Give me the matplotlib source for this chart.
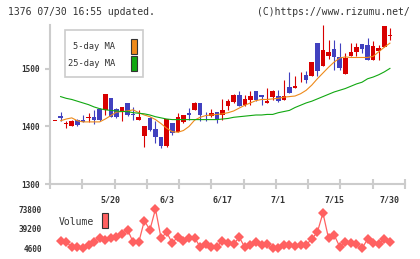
import numpy as np
import matplotlib
matplotlib.use("Agg")
import matplotlib.pyplot as plt
from matplotlib.patches import Rectangle

# daily candles, 5/2 .. 7/30 (one entry per trading day)
opens = [1410, 1419, 1404, 1400, 1412, 1412, 1415, 1417, 1430, 1428,
         1449, 1430, 1426, 1441, 1422, 1411, 1383, 1414, 1395, 1381,
         1366, 1406, 1391, 1408, 1423, 1428, 1441, 1422, 1419, 1426,
         1420, 1436, 1443, 1454, 1438, 1446, 1462, 1454, 1440, 1452,
         1453, 1446, 1468, 1467, 1485.5, 1490, 1488, 1546, 1506, 1522,
         1534, 1521, 1491, 1522, 1529, 1544, 1542, 1516, 1532, 1538,
         1557.5]
highs = [1410, 1426, 1409, 1411, 1413, 1420, 1424, 1429, 1432, 1457,
         1449, 1432, 1434, 1441, 1434, 1428, 1401, 1416, 1409, 1382,
         1413, 1406, 1423, 1420, 1432, 1442, 1441, 1426, 1430, 1426,
         1448, 1448, 1457, 1461, 1455, 1461, 1462, 1454, 1467, 1463,
         1463, 1481, 1494, 1488, 1494, 1496, 1513, 1546, 1577, 1550,
         1550, 1545, 1528, 1545, 1545, 1544, 1554, 1548, 1542, 1575,
         1571]
lows = [1410, 1409, 1397, 1400, 1401, 1407, 1407, 1405, 1409, 1420,
        1416, 1414, 1410, 1418, 1412, 1411, 1365, 1392, 1371, 1362,
        1364, 1385, 1391, 1406, 1412, 1428, 1409, 1409, 1416, 1406,
        1412, 1429, 1440, 1435, 1436, 1438, 1445, 1438, 1440, 1446,
        1443, 1446, 1459, 1467, 1478, 1475, 1488, 1487, 1506, 1517,
        1499, 1499, 1491, 1522, 1522, 1528, 1516, 1516, 1516, 1538,
        1550]
closes = [1410, 1415, 1404.5, 1410, 1403, 1408, 1416, 1411, 1412, 1457,
          1417, 1417, 1434, 1420, 1420, 1416, 1400, 1394, 1381, 1366,
          1413, 1388, 1416, 1420, 1420, 1441, 1420, 1421, 1423, 1412,
          1429, 1445, 1454, 1436, 1448, 1453, 1446, 1451, 1445, 1462,
          1445, 1453, 1459, 1470, 1486, 1481, 1513, 1497, 1533, 1530,
          1521, 1501, 1519, 1529, 1538, 1534, 1516, 1540, 1536, 1575,
          1558]
ma5 = [np.nan, 1410, 1413, 1415, 1410, 1408, 1408, 1408, 1408, 1413,
       1419, 1425, 1426, 1427, 1429, 1424, 1420, 1417, 1412, 1405,
       1397, 1391, 1390, 1393, 1400, 1411, 1416, 1419, 1420, 1421,
       1422, 1424, 1427, 1432, 1437, 1441, 1445, 1447, 1447, 1448,
       1449, 1451, 1452, 1453, 1457, 1463, 1472, 1483, 1493, 1503,
       1512, 1519, 1521, 1520, 1520, 1520, 1520, 1522, 1530, 1538,
       1545]
ma25 = [np.nan, 1452, 1449, 1447, 1444, 1441, 1438, 1434, 1431, 1429,
        1428, 1427, 1426, 1426, 1424, 1423, 1422, 1420, 1417, 1415,
        1413, 1412, 1412, 1412, 1412, 1412, 1412, 1412, 1412, 1412,
        1413, 1414, 1416, 1417, 1418, 1419, 1420, 1420, 1421, 1421,
        1424, 1426, 1428, 1433, 1437, 1441, 1444, 1448, 1452, 1456,
        1460, 1463, 1466, 1470, 1474, 1477, 1483, 1486, 1490, 1495,
        1501]
volume = [np.nan, 17500, 16300, 6400, 7400, 4600, 10500, 16300, 22300, 19300,
          22300, 25200, 29400, 37100, 15200, 15200, 53000, 37100, 73800, 22300,
          33000, 13500, 25200, 18100, 22300, 23400, 6800, 12200, 7400, 7400,
          18100, 13500, 11700, 24100, 6400, 10500, 16300, 10500, 11700, 4600,
          4800, 10500, 10500, 9200, 10500, 10500, 21100, 33000, 66700, 22300,
          28200, 7400, 16300, 14500, 11700, 4600, 20600, 14500, 11700, 20600,
          15200]
date_labels = ["5/20", "6/3", "6/17", "7/1", "7/15", "7/30"]
date_idx = [10, 20, 30, 40, 50, 60]
price_ticks = [1300, 1400, 1500]

UP = "#d80000"
DOWN = "#4141bf"
AXIS = "#cccccc"
TXT = "#333333"
MONO = "DejaVu Sans Mono"

W, H = 420, 259
fig = plt.figure(figsize=(W / 100, H / 100), dpi=100)


def px_axes(x0, y0, x1, y1):
    # axes from pixel box (top-left origin)
    return fig.add_axes([x0 / W, 1 - y1 / H, (x1 - x0) / W, (y1 - y0) / H])


x = np.arange(len(opens))
o = np.array(opens, dtype=float)
c = np.array(closes, dtype=float)
hi = np.array(highs, dtype=float)
lo = np.array(lows, dtype=float)
cols = np.where(c >= o, UP, DOWN)
xlim = (-0.9, 62.7)

ax = px_axes(50, 25, 405, 184)
ax.set_xlim(*xlim)
ax.set_ylim(1300, 1576.5)

ax.vlines(x, lo, hi, colors=cols, linewidth=0.8, zorder=2)
body_lo = np.minimum(o, c)
body_h = np.maximum(np.abs(c - o), 1.3)
ax.bar(x, body_h, bottom=body_lo, width=0.82, color=cols, linewidth=0, zorder=3)

ax.plot(x, ma5, color="#ee8a1a", lw=0.8, zorder=4)
ax.plot(x, ma25, color="#11a811", lw=0.8, zorder=4)

for s in ["top", "right"]:
    ax.spines[s].set_visible(False)
for s in ["left", "bottom"]:
    ax.spines[s].set_color(AXIS)
    ax.spines[s].set_linewidth(1.5)

ax.set_yticks(price_ticks)
ax.set_yticklabels([str(v) for v in price_ticks], fontsize=5.6, fontweight="bold",
                   color=TXT, family=MONO)
ax.tick_params(axis="y", length=3.6, width=1.5, color=AXIS, pad=4)

ax.set_xticks(date_idx)
ax.set_xticklabels(date_labels, fontsize=6, fontweight="bold", color=TXT, family=MONO)
ax.tick_params(axis="x", which="major", length=0, pad=8)
ax.set_xticks(np.linspace(xlim[0], xlim[1], 12), minor=True)
ax.tick_params(axis="x", which="minor", direction="inout", length=7, width=1.5, color=AXIS)

# MA legend box
ax.add_artist(Rectangle((65 / W, 1 - 77 / H), 78 / W, 47 / H, transform=fig.transFigure,
                        facecolor="white", edgecolor=AXIS, lw=1.2, zorder=6))
for label, col, yc in [("5-day MA", "#ee8a1a", 46.5), ("25-day MA", "#11a811", 63)]:
    fig.text(115 / W, 1 - yc / H, label, ha="right", va="center", fontsize=6.3,
             family=MONO, color=TXT, zorder=7)
    fig.patches.append(Rectangle((131 / W, 1 - (yc + 7.5) / H), 6 / W, 15 / H,
                                 transform=fig.transFigure, facecolor=col,
                                 edgecolor="#333333", lw=0.8, zorder=7))

# volume pane
vax = px_axes(50, 203, 405, 252)
vax.set_xlim(*xlim)
vax.set_ylim(-2000, 84400)
vax.plot(x, volume, color="#ff6161", lw=0.9, marker="D", markersize=4.8,
         markeredgewidth=0, zorder=3)
for s in vax.spines.values():
    s.set_visible(False)
vmin, vmax = np.nanmin(volume), np.nanmax(volume)
vticks = [vmin, (vmin + vmax) / 2, vmax]
vax.set_yticks(vticks)
vax.set_yticklabels([f"{v:.0f}" for v in vticks], fontsize=5.6, fontweight="bold",
                    color=TXT, family=MONO)
vax.tick_params(axis="y", length=0, pad=6)
vax.set_xticks([])

fig.text(59 / W, 1 - 222 / H, "Volume", ha="left", va="center", fontsize=7,
         family=MONO, color=TXT)
fig.patches.append(Rectangle((102 / W, 1 - 228 / H), 6 / W, 15 / H, transform=fig.transFigure,
                             facecolor="#ff6161", edgecolor="#333333", lw=0.8))

fig.text(8 / W, 1 - 12 / H, "1376 07/30 16:55 updated.", ha="left", va="center",
         fontsize=7, family=MONO, color=TXT)
fig.text(410 / W, 1 - 12 / H, "(C)https://www.rizumu.net/", ha="right", va="center",
         fontsize=7, family=MONO, color=TXT)

fig.savefig("out.png", dpi=100, facecolor="white")
